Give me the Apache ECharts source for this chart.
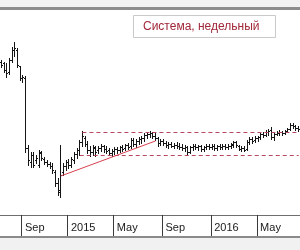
<!DOCTYPE html>
<html><head><meta charset="utf-8">
<script src="https://cdn.jsdelivr.net/npm/echarts@6/dist/echarts.min.js"></script>
<style>html,body{margin:0;padding:0;background:#fff}#c{width:300px;height:250px}</style>
</head><body><div id="c"></div>
<script>
// weekly bars, first week starts 2014-07-07
const firstWeek = '2014-07-07';
const weekCount = 111;
const tickDates = ['2014-09-01','2014-12-29','2015-04-27','2015-08-31','2016-01-04','2016-05-02'];
const tickLabels = ['Sep','2015','May','Sep','2016','May'];
const opens = [35.6,35.2,34.0,33.6,36.0,38.0,38.0,34.6,32.4,32.4,18.4,15.6,17.0,16.0,15.0,17.4,16.2,15.6,15.2,14.8,
  13.6,11.4,9.6,13.6,14.8,15.6,15.0,16.0,17.2,18.0,19.6,20.4,19.2,18.0,17.6,18.4,18.0,18.4,18.8,18.2,
  18.0,17.4,17.8,18.2,18.0,18.6,18.4,19.0,18.8,20.0,19.2,19.8,20.2,20.4,21.0,21.2,21.4,20.8,20.4,19.4,
  19.8,19.4,19.0,19.2,18.8,19.0,18.8,18.6,18.4,18.6,17.6,18.6,18.8,18.6,18.8,18.2,18.6,18.8,18.6,18.8,
  18.4,18.8,18.6,18.8,18.6,18.8,19.0,19.6,18.8,18.2,18.4,18.2,19.6,20.2,20.0,20.4,20.6,21.2,21.0,21.6,
  22.0,20.6,21.2,21.4,21.6,21.4,21.8,22.2,23.0,22.8,22.4];
const highs = [36.0,35.6,35.4,36.4,38.6,39.6,38.4,34.8,33.0,32.8,19.0,17.6,17.6,17.0,18.0,17.8,16.6,16.0,15.6,15.4,
  14.0,12.4,19.0,15.4,16.0,16.2,16.6,17.6,18.4,20.0,21.8,20.8,19.8,18.8,19.0,18.8,18.8,19.2,19.0,18.8,
  18.4,18.2,18.6,18.6,18.8,19.0,19.2,19.4,20.4,20.4,20.2,20.6,20.8,21.4,21.6,21.8,21.6,21.4,20.6,20.2,
  20.2,19.8,19.6,19.6,19.4,19.6,19.4,19.2,19.0,18.8,18.8,19.2,19.2,19.0,19.0,18.8,19.2,19.2,19.2,19.2,
  19.0,19.2,19.2,19.2,19.2,19.4,19.8,19.8,19.0,18.8,18.8,20.0,20.6,20.6,20.8,20.8,21.4,21.6,22.0,22.2,
  22.6,21.4,21.8,22.0,21.8,22.0,22.4,23.4,23.4,23.0,22.8];
const lows = [34.6,33.6,32.6,33.2,35.6,36.8,34.6,32.0,31.6,17.6,15.0,14.6,14.6,15.4,14.6,16.0,15.2,14.8,14.4,13.4,
  10.8,9.0,8.6,13.0,14.0,14.4,14.6,15.4,16.4,17.0,18.8,18.8,17.4,16.8,17.0,16.8,17.4,17.8,17.6,17.4,
  17.0,16.8,17.2,17.4,17.6,17.8,18.0,18.2,18.4,18.8,18.6,19.2,19.4,19.8,20.4,20.6,20.4,20.0,18.8,19.0,
  19.0,18.6,18.4,18.6,18.4,18.4,18.2,18.0,17.8,17.2,17.4,18.0,18.2,18.0,17.8,17.8,18.2,18.2,18.2,18.0,
  18.0,18.2,18.2,18.2,18.2,18.4,18.6,18.6,18.0,17.8,17.8,18.0,19.2,19.4,19.6,19.8,20.2,20.6,20.8,21.0,
  20.2,20.0,21.0,21.0,21.0,21.2,21.6,22.0,22.4,22.0,21.8];
const closes = [35.0,34.0,33.4,36.0,38.0,38.4,35.0,32.4,32.6,18.4,16.0,17.0,15.0,16.4,17.6,16.4,15.6,15.2,14.8,14.0,
  11.4,10.0,13.0,14.8,15.6,15.0,16.2,17.2,18.0,19.6,20.8,19.2,18.0,17.6,18.6,17.6,18.4,18.8,18.2,17.8,
  17.4,17.8,18.2,18.0,18.6,18.2,19.0,18.6,20.0,19.2,19.8,20.2,20.4,21.0,21.2,21.4,20.8,20.4,19.4,19.8,
  19.4,19.0,19.2,18.8,19.0,18.8,18.6,18.4,18.6,17.6,18.6,18.8,18.6,18.8,18.2,18.6,18.8,18.6,18.8,18.4,
  18.8,18.6,18.8,18.6,18.8,19.2,19.6,19.0,18.2,18.4,18.0,19.6,20.2,19.8,20.4,20.6,21.2,21.0,21.6,21.8,
  20.6,21.2,21.4,21.6,21.4,21.8,22.2,23.0,22.8,22.4,22.2];
// drawn studies
const channelTop = 21.5, channelBottom = 16.9;
const channelTopStart = 30, channelBottomStart = 29;
const trendStart = [22, 12.8], trendEnd = [57, 19.8];

const categories = [];
const t0 = Date.parse(firstWeek + 'T00:00:00Z');
for (let i = 0; i < weekCount; i++) categories.push(new Date(t0 + i * 7 * 86400000).toISOString().slice(0, 10));
const ohlc = categories.map((d, i) => [i, opens[i], highs[i], lows[i], closes[i]]);
const lastIdx = weekCount - 1;

const chart = echarts.init(document.getElementById('c'), null, {renderer: 'canvas'});
const snap = v => Math.round(v - 0.5) + 0.5;
const dashStyle = {color: '#b8485c', type: [4, 3], width: 1, opacity: 1};
chart.setOption({
  animation: false,
  backgroundColor: '#ffffff',
  grid: {left: 0, right: 0, top: 10, bottom: 35},
  xAxis: {
    type: 'category', data: categories, boundaryGap: true,
    axisLine: {show: true, lineStyle: {color: '#6e6e6e', width: 1}},
    axisTick: {show: true, length: 21, lineStyle: {color: '#3a3a3a', width: 1},
      interval: (i, v) => tickDates.indexOf(v) >= 0},
    axisLabel: {show: true, interval: (i, v) => tickDates.indexOf(v) >= 0,
      formatter: v => tickLabels[tickDates.indexOf(v)],
      align: 'left', verticalAlign: 'top', margin: 7, padding: [0, 0, 0, 2],
      color: '#1a1a1a', fontFamily: 'Liberation Sans, Arial, sans-serif', fontSize: 11},
    splitLine: {show: false}
  },
  yAxis: {type: 'value', min: 5, max: 46, show: false, splitLine: {show: false}},
  series: [{
    type: 'custom',
    data: ohlc,
    encode: {x: 0, y: [1, 2, 3, 4]},
    clip: true,
    renderItem: (params, api) => {
      const i = api.value(0);
      const x = snap(api.coord([i, 0])[0]);
      const yo = snap(api.coord([i, api.value(1)])[1]);
      const yh = Math.round(api.coord([i, api.value(2)])[1]);
      const yl = Math.round(api.coord([i, api.value(3)])[1]);
      const yc = snap(api.coord([i, api.value(4)])[1]);
      const st = {stroke: '#151515', lineWidth: 1};
      return {type: 'group', children: [
        {type: 'line', shape: {x1: x, y1: yh, x2: x, y2: yl + 1}, style: st},
        {type: 'line', shape: {x1: x - 1.5, y1: yo, x2: x, y2: yo}, style: st},
        {type: 'line', shape: {x1: x, y1: yc, x2: x + 1.5, y2: yc}, style: st}
      ]};
    },
    markLine: {
      silent: true, symbol: ['none', 'none'], label: {show: false},
      emphasis: {disabled: true},
      lineStyle: dashStyle,
      data: [
        [{coord: [channelTopStart, channelTop], lineStyle: dashStyle},
         {coord: [lastIdx, channelTop]}],
        [{coord: [channelBottomStart, channelBottom], lineStyle: dashStyle},
         {coord: [lastIdx, channelBottom]}],
        [{coord: trendStart, lineStyle: {color: '#d8404f', type: 'solid', width: 1}},
         {coord: trendEnd}]
      ]
    }
  }],
  graphic: [
    {type: 'rect', shape: {x: 0, y: 0, width: 300, height: 7}, style: {fill: '#f3f3f3'}, silent: true},
    {type: 'rect', shape: {x: 0, y: 7, width: 300, height: 3}, style: {fill: '#8e8e8e'}, silent: true},
    {type: 'rect', shape: {x: 0, y: 236, width: 300, height: 2}, style: {fill: '#8a8a8a'}, silent: true},
    {type: 'rect', shape: {x: 0, y: 238, width: 300, height: 12}, style: {fill: '#f1f1f1'}, silent: true},
    {type: 'rect', shape: {x: 133.5, y: 15.5, width: 142, height: 22},
      style: {fill: '#ffffff', stroke: '#c9c9c9', lineWidth: 1}, silent: true},
    {type: 'text', x: 143, y: 27, style: {text: 'Система, недельный', fill: '#a0283a',
      font: '12px "Liberation Sans", Arial, sans-serif', verticalAlign: 'middle'}, silent: true}
  ]
});
</script></body></html>
